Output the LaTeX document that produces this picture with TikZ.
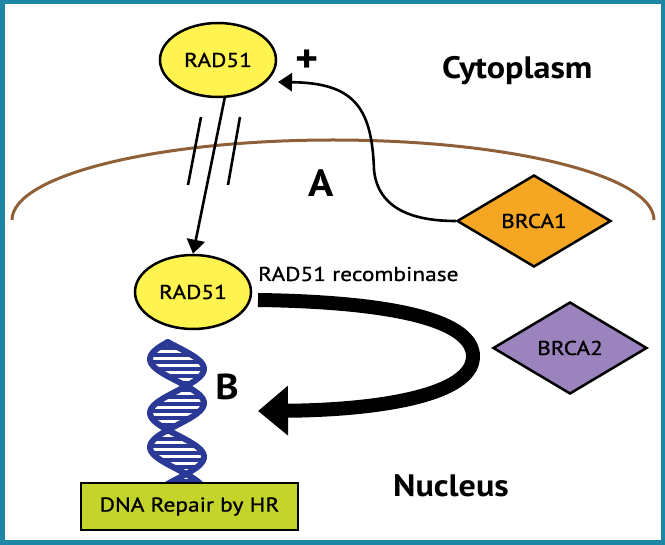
\documentclass[tikz,border=0pt]{standalone}
\usepackage{fontspec}
\setmainfont{PT Sans}[FakeStretch=1.1]
\newfontfamily\lblfont{PT Sans}[FakeStretch=1.17, FakeBold=1]
\usetikzlibrary{shapes.geometric,arrows.meta}
\definecolor{radc}{RGB}{255,243,80}
\definecolor{brcaone}{RGB}{245,166,35}
\definecolor{brcatwo}{RGB}{155,132,190}
\definecolor{hrgreen}{RGB}{196,212,42}
\definecolor{dnablue}{RGB}{42,56,150}
\definecolor{membr}{RGB}{143,96,56}
\definecolor{framec}{RGB}{30,135,165}
\newcommand\myfs[1]{\fontsize{#1}{#1}\selectfont}
\tikzset{
  lbl/.style={font=\lblfont\myfs{20}},
  radnode/.style={ellipse, draw, fill=radc, line width=2.5pt, minimum width=116pt, minimum height=74pt, inner sep=0pt, lbl},
  brcanode/.style={diamond, draw, line width=2.5pt, minimum width=154pt, minimum height=92pt, inner sep=0pt, lbl},
  thinarrow/.style={line width=2.6pt, -{Triangle[length=14pt,width=18pt]}},
  bigarrow/.style={line width=14pt, -{Triangle[length=30pt,width=48pt]}},
  biglabel/.style={font=\bfseries\myfs{31}, inner sep=0pt},
  letterlabel/.style={font=\bfseries\myfs{38}, inner sep=0pt},
  strand/.style={dnablue, line width=6pt, line cap=round},
  rung/.style={dnablue, line width=3.6pt}
}
\begin{document}
\begin{tikzpicture}[x=1pt,y=-1pt]
\useasboundingbox (0,0) rectangle (665,545);
\draw[framec, line width=4.5pt] (2.25,2.25) rectangle (662.75,542.75);

% membrane
\draw[membr, line width=3pt] (12,220) arc[start angle=180, end angle=0, x radius=321pt, y radius=80pt];

% DNA helix
\draw[strand, domain=342:484, samples=80, variable=\t] plot ({177-27*sin(4.09*(\t-342)+20)}, \t);
\draw[strand, domain=342:484, samples=80, variable=\t] plot ({177-27*sin(4.09*(\t-342)+160)}, \t);
\foreach \t in {348,355,...,481}
  \draw[rung] ({177-27*sin(4.09*(\t-342)+20)}, \t) -- ({177-27*sin(4.09*(\t-342)+160)}, \t);

% nodes
\node[radnode] (r1) at (218,60) {RAD51};
\node[radnode] (r2) at (193,292) {RAD51};
\node[brcanode, fill=brcaone] (b1) at (534,221) {BRCA1};
\node[brcanode, fill=brcatwo] (b2) at (570,348) {BRCA2};
\node[draw, fill=hrgreen, line width=2.5pt, minimum width=217pt, minimum height=47pt, inner sep=0pt, lbl] (hr) at (189.5,506.5) {DNA Repair by HR};

% labels
\node[anchor=base west, inner sep=0pt, lbl] (rec) at (258,281) {RAD51 recombinase};
\node[biglabel, anchor=base west] (cyto) at (442,79) {Cytoplasm};
\node[biglabel, anchor=base west] (nuc) at (393,497) {Nucleus};
\node[letterlabel, anchor=base] (la) at (321.5,197) {A};
\node[letterlabel, anchor=base, font=\bfseries\myfs{36}] (lb) at (227,400) {B};
\node[inner sep=0pt, font=\bfseries\myfs{40}] (plus) at (307,61) {+};

% translocation arrow with hash marks
\draw[thinarrow] (r1.-80) -- (r2.north);
\draw[line width=2.6pt] (201,117) -- (188,185);
\draw[line width=2.6pt] (240,117) -- (228,185);

% BRCA1 arrow
\coordinate (r1t) at (278,82);
\draw[thinarrow] (b1.west) .. controls (415,221) and (378,210) .. (374,170)
  .. controls (372,105) and (352,83) .. (r1t);

% big recombinase arrow
\coordinate (bs) at (258,300);
\coordinate (bt) at (258,411);
\draw[bigarrow] (bs) .. controls (400,302) and (474,322) .. (473,357)
  .. controls (472,395) and (380,410) .. (bt);
\end{tikzpicture}
\end{document}
